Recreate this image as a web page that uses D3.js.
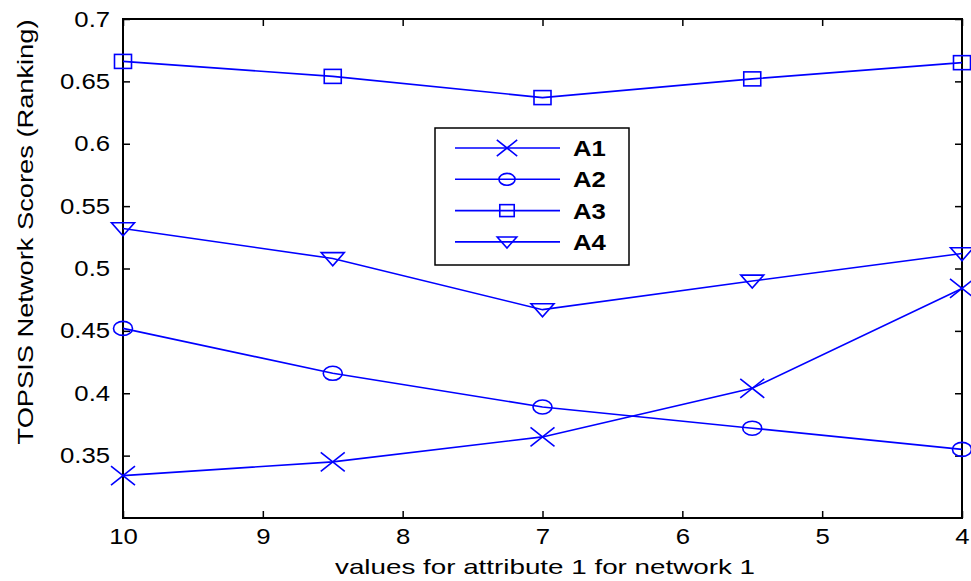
<!DOCTYPE html>
<html><head><meta charset="utf-8">
<script src="https://cdn.jsdelivr.net/npm/d3@7"></script>
<style>body{margin:0;background:#fff}svg{display:block}text{font-family:"Liberation Sans",Arial,sans-serif}</style>
</head><body><svg id="c" width="971" height="581"></svg>
<script>
const xValues = [10, 8.5, 7, 5.5, 4];
const A1 = [0.334, 0.345, 0.365, 0.404, 0.484];
const A2 = [0.452, 0.416, 0.389, 0.372, 0.355];
const A3 = [0.666, 0.654, 0.637, 0.652, 0.665];
const A4 = [0.532, 0.508, 0.467, 0.490, 0.512];
const seriesNames = ["A1", "A2", "A3", "A4"];
const markerTypes = ["cross", "circle", "square", "triangle"];
const xTicks = [10, 9, 8, 7, 6, 5, 4];
const yTicks = [0.35, 0.4, 0.45, 0.5, 0.55, 0.6, 0.65, 0.7];
const xLabel = "values for attribute 1 for network 1";
const yLabel = "TOPSIS Network Scores (Ranking)";

const series = [A1, A2, A3, A4];
const svg = d3.select("#c");
const L = 123, R = 962, T = 19, B = 518;
const SX = 1.17;
const x = d3.scaleLinear().domain([10, 4]).range([L, R]);
const y = d3.scaleLinear().domain([0.3, 0.7]).range([B, T]);
const blue = "#0000ff";

const axB = d3.axisBottom(x).tickValues(xTicks).tickSizeInner(-7).tickSizeOuter(0).tickPadding(10).tickFormat(d3.format("d"));
const axL = d3.axisLeft(y).tickValues(yTicks).tickSizeInner(-7).tickSizeOuter(0).tickPadding(11).tickFormat(d => String(d));
const axT = d3.axisTop(x).tickValues(xTicks).tickSizeInner(-7).tickSizeOuter(0).tickFormat("");
const axR = d3.axisRight(y).tickValues(yTicks).tickSizeInner(-7).tickSizeOuter(0).tickFormat("");

function style(g){
  g.select(".domain").remove();
  g.selectAll(".tick line").attr("stroke","#000").attr("stroke-width",1.5);
  g.selectAll(".tick text").attr("fill","#000").style("font-size","22px")
    .style("font-family",'"Liberation Sans",Arial,sans-serif').attr("transform",`scale(${SX},1)`);
}
svg.append("g").attr("transform",`translate(0,${B})`).call(axB).call(style);
svg.append("g").attr("transform",`translate(${L},0)`).call(axL).call(style);
svg.append("g").attr("transform",`translate(0,${T})`).call(axT).call(style);
svg.append("g").attr("transform",`translate(${R},0)`).call(axR).call(style);
svg.append("rect").attr("x",L).attr("y",T).attr("width",R-L).attr("height",B-T)
  .attr("fill","none").attr("stroke","#000").attr("stroke-width",2);

const line = d3.line().x((d,i)=>x(xValues[i])).y(d=>y(d));
function marker(g, type, cx, cy, s){
  const sw = 1.6;
  if(type==="cross"){
    const w = 12*s, h = 9.5*s;
    g.append("path").attr("d",`M${cx-w},${cy-h}L${cx+w},${cy+h}M${cx-w},${cy+h}L${cx+w},${cy-h}`)
      .attr("stroke",blue).attr("stroke-width",sw).attr("fill","none");
  } else if(type==="circle"){
    g.append("ellipse").attr("cx",cx).attr("cy",cy).attr("rx",9.5*s).attr("ry",7*s)
      .attr("stroke",blue).attr("stroke-width",sw).attr("fill","none");
  } else if(type==="square"){
    g.append("rect").attr("x",cx-8.5*s).attr("y",cy-7*s).attr("width",17*s).attr("height",14*s)
      .attr("stroke",blue).attr("stroke-width",sw).attr("fill","none");
  } else {
    const w = 11.5*s, h = 13*s;
    g.append("path").attr("d",`M${cx-w},${cy-h*0.45}L${cx+w},${cy-h*0.45}L${cx},${cy+h*0.55}Z`)
      .attr("stroke",blue).attr("stroke-width",sw).attr("fill","none");
  }
}
series.forEach((s,k)=>{
  svg.append("path").datum(s).attr("d",line).attr("fill","none").attr("stroke",blue).attr("stroke-width",1.6);
  const g = svg.append("g");
  s.forEach((v,i)=>marker(g, markerTypes[k], x(xValues[i]), y(v), 1));
});

const lg = svg.append("g");
lg.append("rect").attr("x",435).attr("y",128).attr("width",194).attr("height",137)
  .attr("fill","#fff").attr("stroke","#000").attr("stroke-width",1.5);
seriesNames.forEach((n,k)=>{
  const yy = 148 + k*31.3;
  lg.append("line").attr("x1",455).attr("x2",560).attr("y1",yy).attr("y2",yy).attr("stroke",blue).attr("stroke-width",1.6);
  marker(lg, markerTypes[k], 507, yy, 0.85);
  lg.append("text").attr("transform",`translate(573,${yy}) scale(${SX},1)`).attr("dy","0.36em")
    .style("font-size","22px").style("font-weight","bold").attr("fill","#000").text(n);
});

svg.append("text").attr("transform",`translate(545,574)`).attr("text-anchor","middle")
  .attr("textLength",420).attr("lengthAdjust","spacingAndGlyphs")
  .style("font-size","21px").attr("fill","#000").text(xLabel);
svg.append("text").attr("transform",`translate(33,232) rotate(-90)`).attr("text-anchor","middle")
  .attr("textLength",425).attr("lengthAdjust","spacingAndGlyphs")
  .style("font-size","22px").attr("fill","#000").text(yLabel);
</script></body></html>
